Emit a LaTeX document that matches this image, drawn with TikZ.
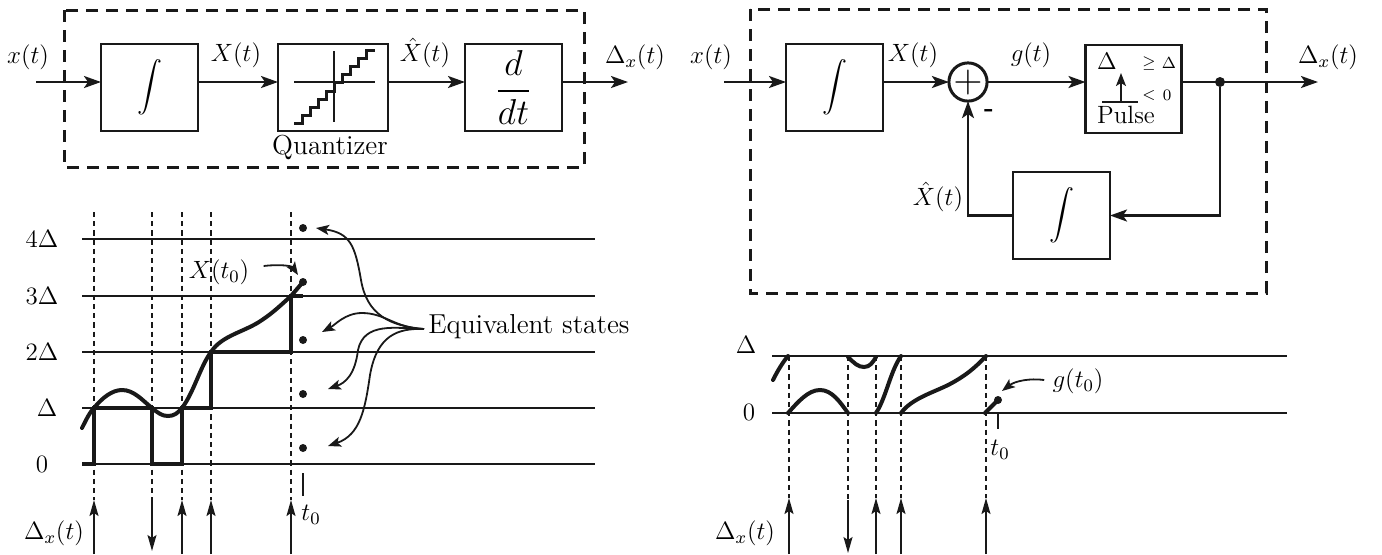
\documentclass[tikz,border=0pt]{standalone}
\usepackage{fix-cm}
\usepackage{amsmath,amssymb}
\usetikzlibrary{positioning,arrows.meta}

\begin{document}
\begin{tikzpicture}[
  x=0.5pt, y=-0.5pt,
  every node/.style={font=\fontsize{12.5}{15}\selectfont, inner sep=0pt},
  word/.style={font=\fontsize{13.7}{16}\selectfont},
  block/.style={draw=black!90, line width=1.3pt, outer sep=0pt, minimum width=48.5pt, minimum height=43.5pt},
  frame/.style={draw=black!90, line width=1.5pt, dash pattern=on 6pt off 4pt},
  arr/.style={-{Stealth[length=8.5pt,width=6pt,inset=2pt]}, line width=1.2pt, black!90},
  thinarr/.style={-{Stealth[length=8pt,width=4.5pt,inset=1.5pt]}, line width=0.8pt, black!90},
  curvearr/.style={-{Stealth[length=6.5pt,width=5pt,inset=1.5pt]}, line width=0.9pt, black!90},
  level/.style={line width=1.1pt, black!90},
  guide/.style={line width=0.8pt, black!90, dash pattern=on 2.6pt off 2pt},
  trace/.style={line width=2pt, black!90, line cap=round},
  spot/.style={circle, fill=black!90, minimum size=4pt}
]
\useasboundingbox (0,0) rectangle (1382,554);

% =================== quantizer system ===================
\draw[frame] (64,10) rectangle (584,167);
\node[block] (intA) at (149.5,87.5) {$\displaystyle\int$};
\node[block, minimum width=55pt, right=40pt of intA] (quant) {};
\node[block, right=38.5pt of quant] (diff) {\fontsize{18}{21}\selectfont$\dfrac{d}{dt}$};
\node[word, below=2pt of quant, xshift=-1.5pt] (quantlab) {Quantizer};
\coordinate (inA) at (36,82);
\coordinate (outA) at (628,82);

\draw[line width=0.8pt, black!90] (294,82) -- (375,82) (334,51) -- (334,122);
\draw[line width=1.5pt, black!90] (294,123) -| (302,115) -| (310,107) -| (318,99) -| (326,91) -| (334,82)
  -| (342,74) -| (350,66) -| (358,58) -| (366,50) -- (375,50);

\node (xA) at (28,57) {$x(t)$};
\node (XA) at (236,55) {$X(t)$};
\node (XhatA) at (425,53) {$\hat{X}(t)$};
\node (dxA) at (635,57) {$\Delta_x(t)$};

\draw[arr] (inA) -- (inA-|intA.west);
\draw[arr] (intA.east|-inA) -- (quant.west|-inA);
\draw[arr] (quant.east|-inA) -- (diff.west|-inA);
\draw[arr] (diff.east|-inA) -- (outA);

% =================== quantizer states ===================
\foreach \lev/\name/\txt/\pos in {239/four/4\Delta/42, 296/three/3\Delta/42, 352/two/2\Delta/42, 408/one/\Delta/47, 464/zero/0/42} {
  \draw[level] (82,\lev) -- (595,\lev);
  \node (lev\name) at (\pos,\lev) {$\txt$};
}
\foreach \t in {94,182,211,291} {
  \draw[guide] (\t,212) -- (\t,500);
  \draw[thinarr] (\t,554) -- (\t,500);
}
\draw[guide] (152,212) -- (152,500);
\draw[thinarr] (152,500) -- (152,551);

\draw[trace] (82,428) .. controls (87,418) and (90,412) .. (94,408)
  .. controls (102,398) and (112,390) .. (122,390)
  .. controls (134,390) and (142,400) .. (152,408)
  .. controls (158,413) and (162,416) .. (168,416)
  .. controls (174,416) and (178,413) .. (182,408)
  .. controls (194,392) and (200,367) .. (211,352)
  .. controls (222,335) and (245,332) .. (262,320)
  .. controls (274,312) and (282,304) .. (291,296)
  -- (303,282);
\draw[line width=1.6pt, black!90] (82,464) -- (94,464) -- (94,408) -- (152,408) -- (152,464) -- (182,464)
  -- (182,408) -- (211,408) -- (211,352) -- (291,352) -- (291,296) -- (303,296);

\node[spot] (stateA) at (303,228) {};
\node[spot] (stateX) at (303,282) {};
\node[spot] (stateB) at (303,340) {};
\node[spot] (stateC) at (303,394) {};
\node[spot] (stateD) at (303,448) {};
\node[word, anchor=west] (equiv) at (428,327) {Equivalent states};
\coordinate (hub) at (424,329);
\coordinate (tipA) at (316,228);
\coordinate (tipB) at (322,332);
\coordinate (tipC) at (328,389);
\coordinate (tipD) at (328,446);
\coordinate (tipX) at (298,275);

\draw[curvearr] (hub) .. controls (390,326) and (367,315) .. (361,280) .. controls (355,245) and (350,233) .. (tipA);
\draw[curvearr] (hub) .. controls (395,328) and (385,313) .. (362,313) .. controls (345,313) and (335,325) .. (tipB);
\draw[curvearr] (hub) .. controls (395,328) and (364,322) .. (358,350) .. controls (355,375) and (345,383) .. (tipC);
\draw[curvearr] (hub) .. controls (398,328) and (377,335) .. (370,375) .. controls (365,410) and (360,435) .. (tipD);

\node (Xt) at (219,272) {$X(t_0)$};
\draw[curvearr] (Xt.east) ++(14,-6) .. controls (280,264) and (292,266) .. (tipX);

\draw[line width=0.8pt, black!90] (303,473) -- (303,496);
\node (tA) at (311,515) {$t_0$};
\node (dxB) at (54,533) {$\Delta_x(t)$};

% =================== pulse system ===================
\draw[frame] (750,9) rectangle (1266,293);
\node[block] (intB) at (834.5,87.5) {$\displaystyle\int$};
\node[draw=black!90, line width=1.5pt, outer sep=0pt, circle, minimum size=19pt] (sum) at (968,82) {\fontsize{20}{22}\selectfont$+$};
\node[block, minimum width=48pt, minimum height=44pt] (pulse) at (1133.5,89) {};
\node[block] (intC) at (1061.5,215.5) {$\displaystyle\int$};
\coordinate (inB) at (724,82);
\coordinate (outB) at (1318,82);
\node[spot, minimum size=5pt] (join) at (1220,82) {};

\node (xB) at (711,57) {$x(t)$};
\node (XB) at (913,55) {$X(t)$};
\node (gB) at (1031,55) {$g(t)$};
\node (dxC) at (1328,57) {$\Delta_x(t)$};
\node (XhatB) at (938,197) {$\hat{X}(t)$};
\node[font=\bfseries\fontsize{13}{15}\selectfont] (minus) at (989,113) {-};

\node[font=\fontsize{12}{14}\selectfont] (pulseD) at (1107,61) {$\Delta$};
\node[font=\fontsize{8}{10}\selectfont] (pulseGe) at (1149,63) {$\geq$};
\node[font=\fontsize{8}{10}\selectfont] (pulseDs) at (1169,63) {$\Delta$};
\node[font=\fontsize{8}{10}\selectfont] (pulseLt) at (1149,95) {$<$};
\node[font=\fontsize{8}{10}\selectfont] (pulseZ) at (1167,95) {$0$};
\node (pulseT) at (1126,115) {Pulse};
\draw[line width=0.7pt, black!90] (1102,102) -- (1138,102);
\draw[curvearr] (1121,102) -- (1121,73);

\draw[arr] (inB) -- (inB-|intB.west);
\draw[arr] (intB.east|-sum.west) -- (sum.west);
\draw[arr] (sum.east) -- (pulse.west|-sum.east);
\draw[arr] (pulse.east|-outB) -- (outB);
\draw[arr] (join) |- (intC.east);
\draw[arr] (intC.west) -| (sum.south);

% =================== pulse states ===================
\foreach \lev in {356,413} {
  \draw[level] (772,\lev) -- (1287,\lev);
}
\node (levupper) at (746,345) {$\Delta$};
\node (levlower) at (749,412) {$0$};
\foreach \t in {789,876,901,986} {
  \draw[guide] (\t,356) -- (\t,498);
  \draw[thinarr] (\t,554) -- (\t,498);
}
\draw[guide] (848,356) -- (848,500);
\draw[thinarr] (848,500) -- (848,553);

\draw[trace] (773,380) .. controls (778,370) and (783,362) .. (788,356);
\draw[trace] (788,413) .. controls (798,402) and (808,390) .. (820,390) .. controls (832,390) and (840,402) .. (848,413);
\draw[trace] (848,357) .. controls (854,363) and (858,367) .. (864,367) .. controls (870,367) and (873,362) .. (876,357);
\draw[trace] (876,413) .. controls (886,398) and (890,372) .. (901,356);
\draw[trace] (901,413) .. controls (912,398) and (935,392) .. (950,384) .. controls (965,376) and (975,368) .. (986,356);
\draw[trace] (985,413) -- (998,400);

\node[spot] (stateG) at (998,400) {};
\node (gt) at (1078,381) {$g(t_0)$};
\coordinate (tipG) at (1002,391);
\draw[curvearr] (gt.west) ++(-8,-1) .. controls (1030,378) and (1015,381) .. (tipG);
\draw[line width=0.8pt, black!90] (998,413) -- (998,429);
\node (tB) at (1000,450) {$t_0$};
\node (dxD) at (745,533) {$\Delta_x(t)$};

\end{tikzpicture}
\end{document}
